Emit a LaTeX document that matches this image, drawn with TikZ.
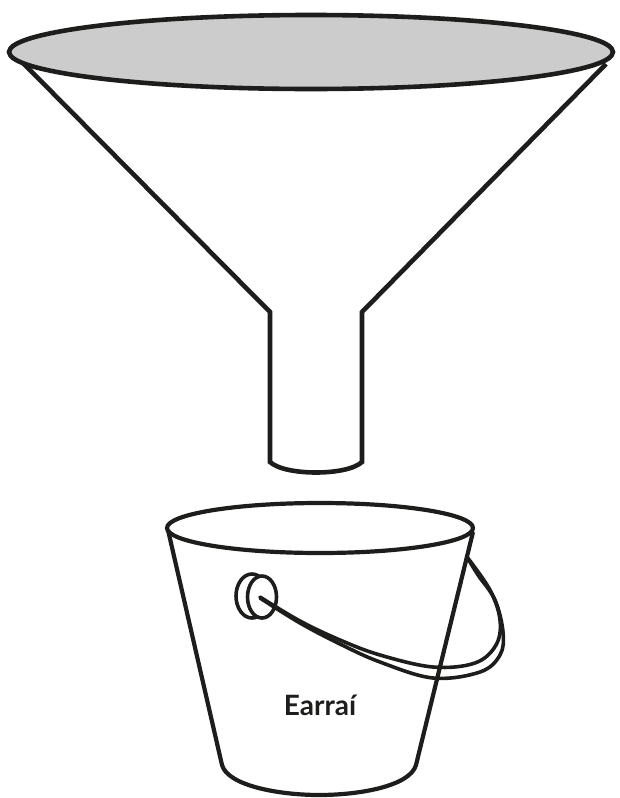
\documentclass[tikz,border=0pt]{standalone}
\usepackage{fontspec}
\setmainfont{Lato}
\usepackage{tikz}

\definecolor{ink}{HTML}{1D1D1B}
\definecolor{rimgray}{HTML}{CCCCCC}

\begin{document}
\begin{tikzpicture}[x=1pt, y=-1pt]

\tikzstyle{outline}=[draw=ink, line width=4.6pt]
\tikzstyle{bucketline}=[draw=ink, line width=4.2pt]
\tikzstyle{handleline}=[draw=ink, line width=3.6pt, line cap=round]

\useasboundingbox (0,0) rectangle (620,798);

% funnel
\draw[outline] (22,62) -- (270,312) -- (270,462)
  .. controls (285,476) and (347,476) .. (362,462)
  -- (362,312) -- (606,64);
\draw[outline, fill=rimgray] (311,52) ellipse [x radius=302, y radius=37];

% bucket
\draw[bucketline] (168,530) -- (222,765)
  .. controls (228,786) and (280,795) .. (319,795)
  .. controls (360,795) and (410,786) .. (416,765) -- (473,532);
\draw[bucketline] (320,528) ellipse [x radius=153, y radius=25];

% ring
\draw[handleline, fill=white] (252,596) ellipse [x radius=16, y radius=22];
\draw[handleline, fill=white] (262,597) ellipse [x radius=14.5, y radius=21];

% handle
\draw[handleline] plot[smooth, tension=0.6] coordinates {
  (260,597) (300,621) (340,640) (380,655) (433,667) (475,663)
  (496,645) (500,620) (490,590) (467,557)};
\draw[handleline] plot[smooth, tension=0.6] coordinates {
  (260,598) (300,623) (340,644) (380,662) (433,678) (480,672)
  (500,655) (503,632) (495,600) (478,575) (467,557)};

% label
\node[anchor=base, text=ink, font=\fontsize{28}{32}\selectfont\bfseries]
  (lbl_earrai) at (320,715) {Earraí};

\end{tikzpicture}
\end{document}
